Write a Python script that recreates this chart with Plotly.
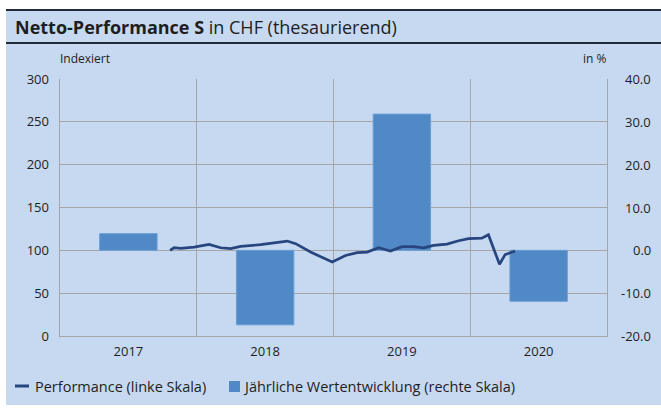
import plotly.graph_objects as go

# ---- data ----
years = ["2017", "2018", "2019", "2020"]
annual_pct = [3.9, -17.4, 31.8, -11.9]

perf_t = [2017.805, 2017.834, 2017.883, 2017.980, 2018.090, 2018.175, 2018.248,
          2018.321, 2018.467, 2018.540, 2018.662, 2018.723, 2018.832, 2018.991,
          2019.088, 2019.173, 2019.246, 2019.331, 2019.416, 2019.501, 2019.586,
          2019.659, 2019.732, 2019.830, 2019.915, 2019.988, 2020.085, 2020.133,
          2020.214, 2020.255, 2020.328]
perf_idx = [100, 103, 102.3, 103.8, 107, 103, 102, 104.6, 106.6, 108.5, 110.8,
            107.8, 98, 86.4, 94, 97.3, 98, 103.1, 99.2, 104.3, 104.3, 103,
            105.8, 107.3, 111.2, 113.6, 114.3, 118.2, 83.7, 95, 99.2]

left_ticks = [0, 50, 100, 150, 200, 250, 300]
right_ticks = [-20, -10, 0, 10, 20, 30, 40]

# ---- style ----
BG = "#c6d9f0"
BAR = "#5089c6"
LINE = "#27457f"
GRID = "#a6a6a6"
TXT = "#1e1e1e"
DARK = "#1f2b3a"
FONT = "Open Sans"

W, H = 661, 412
L, R, T, B = 60, 54, 79, 76
PW, PH = W - L - R, H - T - B


def px(x):
    return (x - L) / PW


def py(y):
    return (H - B - y) / PH


fig = go.Figure()
fig.add_trace(go.Bar(x=years, y=annual_pct, xaxis="x", yaxis="y",
                     marker=dict(color=BAR, line=dict(color="#6a9fd6", width=1)),
                     width=0.42, name="Jährliche Wertentwicklung (rechte Skala)",
                     showlegend=False, hoverinfo="x+y"))
fig.add_trace(go.Scatter(x=perf_t, y=perf_idx, xaxis="x2", yaxis="y2", mode="lines",
                         line=dict(color=LINE, width=2.7),
                         name="Performance (linke Skala)", showlegend=False))

fig.update_layout(
    width=W, height=H,
    margin=dict(l=L, r=R, t=T, b=B, autoexpand=False),
    paper_bgcolor="white", plot_bgcolor=BG,
    font=dict(family=FONT, size=13, color=TXT),
    xaxis=dict(type="category", categoryorder="array", categoryarray=years,
               tickson="boundaries", showgrid=True, gridcolor=GRID, gridwidth=1,
               ticks="", showline=True, linecolor=GRID, linewidth=1,
               tickfont=dict(size=13), zeroline=False, ticklabelstandoff=3,
               automargin=False),
    xaxis2=dict(overlaying="x", range=[2017, 2021], visible=False, anchor="y2"),
    yaxis=dict(side="right", range=[-20, 40], tickvals=right_ticks,
               showticklabels=False, showgrid=True, gridcolor=GRID, gridwidth=1,
               zeroline=False, ticks="", showline=True, mirror=True,
               linecolor=GRID, linewidth=1, automargin=False),
    yaxis2=dict(side="left", overlaying="y", range=[0, 300], tickvals=left_ticks,
                showgrid=False, zeroline=False, ticks="", showline=False,
                tickfont=dict(size=13), ticklabelstandoff=10, automargin=False),
)

shapes = [
    dict(type="rect", xref="paper", yref="paper", x0=px(6), x1=px(W + 2),
         y0=py(405), y1=py(10), fillcolor=BG, line=dict(width=0), layer="below"),
    dict(type="line", xref="paper", yref="paper", x0=px(6), x1=px(W + 2),
         y0=py(10), y1=py(10), line=dict(color=DARK, width=2)),
    dict(type="line", xref="paper", yref="paper", x0=px(6), x1=px(W + 2),
         y0=py(43), y1=py(43), line=dict(color=DARK, width=2)),
    # legend glyphs
    dict(type="line", xref="paper", yref="paper", x0=px(15), x1=px(29),
         y0=py(386), y1=py(386), line=dict(color=LINE, width=3)),
    dict(type="rect", xref="paper", yref="paper", x0=px(229), x1=px(240),
         y0=py(392), y1=py(381), fillcolor=BAR, line=dict(width=0)),
]

annotations = [
    dict(text="<b>Netto-Performance S</b> in CHF (thesaurierend)", x=px(13), y=py(27),
         xref="paper", yref="paper", xanchor="left", yanchor="middle",
         showarrow=False, font=dict(size=18, color=TXT)),
    dict(text="Indexiert", x=px(58), y=py(58), xref="paper", yref="paper",
         xanchor="left", yanchor="middle", showarrow=False, font=dict(size=12)),
    dict(text="in %", x=px(609), y=py(58), xref="paper", yref="paper",
         xanchor="right", yanchor="middle", showarrow=False, font=dict(size=12)),
    dict(text="Performance (linke Skala)", x=px(33), y=py(386), xref="paper",
         yref="paper", xanchor="left", yanchor="middle", showarrow=False,
         font=dict(size=14.5)),
    dict(text="Jährliche Wertentwicklung (rechte Skala)", x=px(241), y=py(386),
         xref="paper", yref="paper", xanchor="left", yanchor="middle",
         showarrow=False, font=dict(size=14.5)),
]
# right-aligned percentage tick labels (right scale)
for v in right_ticks:
    annotations.append(dict(text=f"{v:.1f}", x=px(653), y=v, xref="paper", yref="y",
                            xanchor="right", yanchor="middle", showarrow=False,
                            font=dict(size=13)))
fig.update_layout(shapes=shapes, annotations=annotations)

fig.write_html("out.html")
